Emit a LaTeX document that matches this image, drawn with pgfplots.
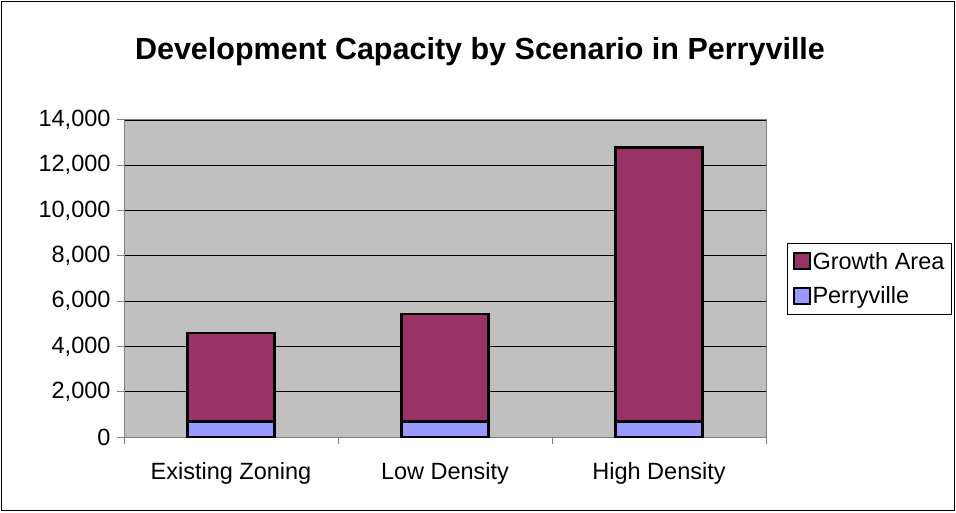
\documentclass[border=0pt]{standalone}
\usepackage{pgfplots}
\pgfplotsset{compat=1.18}
\usepackage{fontspec}
\setmainfont{Liberation Sans}
\definecolor{plotgray}{HTML}{C0C0C0}
\definecolor{growth}{HTML}{993366}
\definecolor{perry}{HTML}{9999FF}
\definecolor{axgray}{HTML}{808080}
\begin{document}
\begin{tikzpicture}[x=1pt,y=1pt]
\useasboundingbox (0,0) rectangle (956,512);
\draw[line width=1.2pt] (1.5,1.5) rectangle (954.5,510.5);
\node[font=\fontsize{30.5}{36}\selectfont\bfseries] at (480,460) {Development Capacity by Scenario in Perryville};
\begin{axis}[
  at={(124pt,75pt)}, anchor=south west,
  scale only axis, width=642pt, height=317pt,
  ybar stacked, bar width=87pt,
  xmin=-0.5, xmax=2.5, ymin=0, ymax=14000,
  ytick={0,2000,...,14000},
  xtick={-0.5,0.5,1.5,2.5}, xticklabels={},
  extra x ticks={0,1,2},
  extra x tick labels={Existing Zoning, Low Density, High Density},
  extra x tick style={major tick length=0pt, grid=none},
  major tick length=7pt,
  tick align=outside, tick pos=left,
  tick style={draw=axgray, line width=1pt},
  axis line style={draw=axgray, line width=1pt},
  axis background/.style={fill=plotgray},
  ymajorgrids, grid style={draw=black, line width=0.8pt},
  scaled y ticks=false,
  /pgf/number format/1000 sep={,},
  /pgf/number format/assume math mode=true,
  ticklabel style={font=\fontsize{23.5}{28}\selectfont},
  xticklabel style={yshift=-22pt},
  yticklabel style={xshift=-3pt},
  legend style={at={(axis description cs:1.0327,0.613)}, anchor=north west,
    draw=black, line width=1pt, font=\fontsize{23.5}{28}\selectfont,
    inner xsep=5pt, inner ysep=7pt, row sep=12pt},
  legend cell align=left,
  reverse legend,
  legend image code/.code={\draw[#1, line width=2pt] (0pt,-8pt) rectangle (16pt,8pt);},
]
\addplot[fill=perry, draw=black, line width=2.6pt] coordinates {(0,680) (1,680) (2,680)};
\addplot[fill=growth, draw=black, line width=2.6pt] coordinates {(0,3920) (1,4750) (2,12100)};
\legend{Perryville, Growth Area}
\end{axis}
\end{tikzpicture}
\end{document}
